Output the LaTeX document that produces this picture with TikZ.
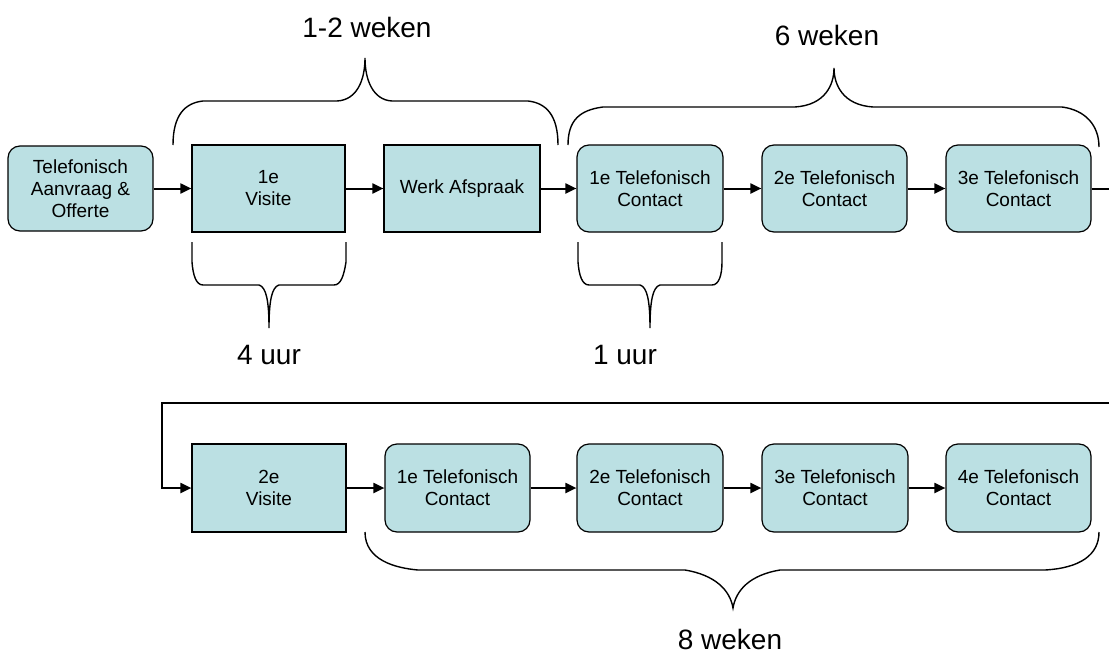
\documentclass[tikz,border=0pt]{standalone}
\usepackage{fontspec}
\setmainfont{Liberation Sans}
\usetikzlibrary{arrows.meta}
\definecolor{boxfill}{RGB}{187,224,227}
\begin{document}
\begin{tikzpicture}[x=1pt,y=-1pt,
  sq/.style={draw=black, line width=1.2pt, fill=boxfill, align=center, inner sep=0pt,
             font=\fontsize{19}{22}\selectfont},
  rd/.style={sq, rounded corners=12pt},
  conn/.style={line width=2pt, -{Triangle[length=11pt,width=10pt]}},
  brace/.style={line width=1.4pt},
  lbl/.style={font=\fontsize{28}{33}\selectfont, inner sep=0pt}]
\useasboundingbox (0,0) rectangle (1109,656);

% top row
\node[rd, minimum width=145pt, minimum height=85pt] (A) at (80.5,188.5) {Telefonisch\\Aanvraag \&\\Offerte};
\node[sq, minimum width=153pt, minimum height=87pt] (B) at (268.5,188.5) {1e\\Visite};
\node[sq, minimum width=156pt, minimum height=87pt] (C) at (462,188.5) {Werk Afspraak};
\node[rd, minimum width=146pt, minimum height=87pt] (D) at (650,188.5) {1e Telefonisch\\Contact};
\node[rd, minimum width=145pt, minimum height=87pt] (E) at (834.5,188.5) {2e Telefonisch\\Contact};
\node[rd, minimum width=145pt, minimum height=87pt] (F) at (1018.5,188.5) {3e Telefonisch\\Contact};

% bottom row
\node[sq, minimum width=154pt, minimum height=88pt] (G) at (269,488) {2e\\Visite};
\node[rd, minimum width=145pt, minimum height=88pt] (H) at (457.5,488) {1e Telefonisch\\Contact};
\node[rd, minimum width=146pt, minimum height=88pt] (I) at (650,488) {2e Telefonisch\\Contact};
\node[rd, minimum width=146pt, minimum height=88pt] (J) at (835,488) {3e Telefonisch\\Contact};
\node[rd, minimum width=145pt, minimum height=88pt] (K) at (1018.5,488) {4e Telefonisch\\Contact};

% connectors
\draw[conn] (A.east) -- (B.west);
\draw[conn] (B.east) -- (C.west);
\draw[conn] (C.east) -- (D.west);
\draw[conn] (D.east) -- (E.west);
\draw[conn] (E.east) -- (F.west);
\coordinate (r1) at (1113,403);
\coordinate (r2) at (162,403);
\draw[conn] (F.east) -| (r1) -- (r2) |- (G.west);
\draw[conn] (G.east) -- (H.west);
\draw[conn] (H.east) -- (I.west);
\draw[conn] (I.east) -- (J.west);
\draw[conn] (J.east) -- (K.west);

% braces
\draw[brace] (173,145) .. controls (173,115) and (185,103) .. (203,101) -- (337,101)
  .. controls (357,100) and (365,80) .. (365,58)
  .. controls (365,80) and (373,100) .. (392,101) -- (528,101)
  .. controls (546,103) and (558,115) .. (558,145);
\draw[brace] (568,145) .. controls (568,120) and (580,110) .. (603,107) -- (795,107)
  .. controls (825,105) and (834,85) .. (834,68)
  .. controls (834,85) and (843,105) .. (873,107) -- (1062,107)
  .. controls (1085,110) and (1099,125) .. (1099,147);
\draw[brace] (192,242) -- (192,262) .. controls (193,275) and (196,285) .. (203,285) -- (259,285)
  .. controls (266,287) and (269,300) .. (269,328)
  .. controls (269,300) and (272,287) .. (279,285) -- (334,285)
  .. controls (341,285) and (344,275) .. (346,262) -- (346,242);
\draw[brace] (578,242) -- (578,262) .. controls (579,275) and (582,285) .. (589,285) -- (640,285)
  .. controls (647,287) and (650,300) .. (650,328)
  .. controls (650,300) and (653,287) .. (660,285) -- (712,285)
  .. controls (719,285) and (722,275) .. (722,262) -- (722,242);
\draw[brace] (365,532) .. controls (365,560) and (395,568) .. (418,570) -- (685,570)
  .. controls (715,575) and (730,590) .. (733,608)
  .. controls (736,590) and (750,575) .. (780,570) -- (1045,570)
  .. controls (1080,568) and (1099,555) .. (1099,532);

% labels
\node[lbl] (l12) at (367,27) {1-2 weken};
\node[lbl] (l6) at (827,35) {6 weken};
\node[lbl] (l4) at (269,355) {4 uur};
\node[lbl] (l1) at (625,355) {1 uur};
\node[lbl] (l8) at (730,639) {8 weken};
\end{tikzpicture}
\end{document}
